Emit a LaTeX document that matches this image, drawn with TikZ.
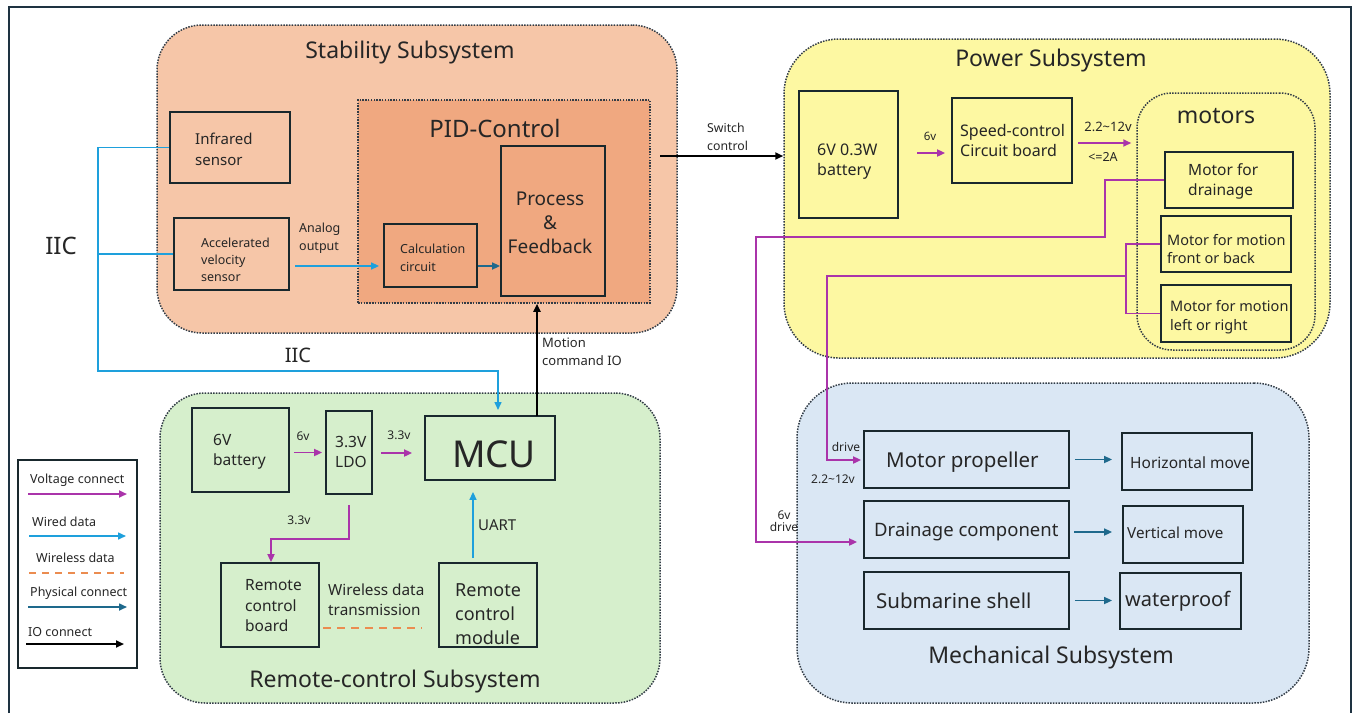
\documentclass[tikz,border=0pt]{standalone}
\usepackage{fontspec}
\setmainfont{Noto Sans}
\usetikzlibrary{arrows.meta,fit,calc}
\definecolor{voltc}{RGB}{170,52,170}
\definecolor{wirec}{RGB}{30,160,220}
\definecolor{wlessc}{RGB}{235,140,80}
\definecolor{physc}{RGB}{30,105,140}
\definecolor{edgec}{RGB}{25,40,45}
\definecolor{framec}{RGB}{30,50,65}
\definecolor{stabf}{RGB}{246,198,168}
\definecolor{pidf}{RGB}{240,168,128}
\definecolor{powf}{RGB}{253,248,162}
\definecolor{remf}{RGB}{214,239,204}
\definecolor{mechf}{RGB}{218,231,244}
\definecolor{dotc}{RGB}{50,60,70}
\definecolor{txtc}{RGB}{38,38,38}
\begin{document}
\begin{tikzpicture}[x=1pt,y=-1pt,
  f/.style 2 args={font=\fontsize{#1}{#2}\selectfont},
  txt/.style={text=txtc, inner sep=0pt},
  box/.style={draw=edgec, line width=1.8pt, inner sep=0pt},
  subsys/.style={draw=dotc, line width=1.5pt, dash pattern=on 1.5pt off 1.3pt, inner sep=0pt},
  arr/.style={-{Triangle[length=8pt,width=7pt]}},
  voltl/.style={draw=voltc, line width=1.8pt},
  wiredl/.style={draw=wirec, line width=1.5pt},
  physl/.style={draw=physc, line width=1.6pt},
  iol/.style={draw=black, line width=2.4pt},
  wlessl/.style={draw=wlessc, line width=2pt, dash pattern=on 8pt off 6pt},
]
\useasboundingbox (0,0) rectangle (1359,713);
\fill[white] (0,0) rectangle (1359,713);
% outer frame
\coordinate (fr1) at (9,713); \coordinate (fr2) at (9,7);
\coordinate (fr3) at (1351,7); \coordinate (fr4) at (1351,713);
\draw[framec, line width=2pt] (fr1) -- (fr2) -- (fr3) -- (fr4);

% subsystems
\node[subsys, fill=stabf, rounded corners=45pt, fit={(157,25)(677,333)}] (stab) {};
\node[subsys, fill=powf, rounded corners=55pt, fit={(784,39)(1330,358)}] (pow) {};
\node[subsys, fill=remf, rounded corners=45pt, fit={(160,393)(660,703)}] (rem) {};
\node[subsys, fill=mechf, rounded corners=55pt, fit={(797,383)(1309,703)}] (mech) {};
\node[subsys, fill=pidf, fit={(358,100)(650,303)}] (pid) {};
\node[subsys, rounded corners=35pt, fit={(1137,93)(1315,350)}] (mot) {};

% titles
\node[txt, f={23}{28}] (stabT) at (410,53) {Stability Subsystem};
\node[txt, f={23}{28}] (powT) at (1051,61) {Power Subsystem};
\node[txt, f={23}{28}] (remT) at (395,682) {Remote-control Subsystem};
\node[txt, f={23}{28}] (mechT) at (1051,658) {Mechanical Subsystem};
\node[txt, f={24}{28}] (pidT) at (495,128) {PID-Control};
\node[txt, f={23}{28}] (motT) at (1216,116) {motors};

% boxes
\node[box, fit={(170,112)(290,183)}] (ir) {};
\node[box, fit={(174,218)(289,290)}] (acc) {};
\node[box, fit={(384,224)(477,287)}] (calc) {};
\node[box, fit={(501,146)(605,296)}] (proc) {};
\node[box, fit={(799,91)(898,218)}] (bat) {};
\node[box, fit={(952,98)(1072,183)}] (sc) {};
\node[box, fit={(1165,152)(1293,208)}] (mdr) {};
\node[box, fit={(1161,216)(1291,272)}] (mfb) {};
\node[box, fit={(1161,285)(1291,342)}] (mlr) {};
\node[box, fit={(192,408)(289,492)}] (rbat) {};
\node[box, fit={(326,411)(372,494)}] (ldo) {};
\node[box, fit={(425,416)(555,480)}] (mcu) {};
\node[box, fit={(221,563)(319,647)}] (rcb) {};
\node[box, fit={(439,563)(537,647)}] (rcm) {};
\node[box, fit={(864,431)(1069,488)}] (mp) {};
\node[box, fit={(864,501)(1069,558)}] (dc) {};
\node[box, fit={(864,572)(1069,629)}] (ss) {};
\node[box, fit={(1122,433)(1252,490)}] (hm) {};
\node[box, fit={(1123,506)(1243,563)}] (vm) {};
\node[box, fit={(1120,573)(1241,629)}] (wp) {};
\node[box, fill=white, fit={(18,460)(137,668)}] (leg) {};

% box texts
\node[txt, f={15}{21}, anchor=west, align=left] (irT) at (195,149.5) {Infrared\\sensor};
\node[txt, f={12.5}{17}, anchor=west, align=left] (accT) at (201,260) {Accelerated\\velocity\\sensor};
\node[txt, f={12.5}{18}, anchor=west, align=left] (calcT) at (400,258) {Calculation\\circuit};
\node[txt, f={19}{24}, align=center] (procT) at (550,223) {Process\\\&\\Feedback};
\node[txt, f={16}{20}, anchor=west, align=left] (batT) at (817,162) {6V 0.3W\\battery};
\node[txt, f={16}{20}, anchor=west, align=left] (scT) at (960,140) {Speed-control\\Circuit board};
\node[txt, f={15.5}{20}, anchor=west, align=left] (mdrT) at (1188,181) {Motor for\\drainage};
\node[txt, f={14.5}{18}, anchor=west, align=left] (mfbT) at (1167,249) {Motor for motion\\front or back};
\node[txt, f={14.5}{19}, anchor=west, align=left] (mlrT) at (1170,317.5) {Motor for motion\\left or right};
\node[txt, f={15.5}{20}, anchor=west, align=left] (rbatT) at (213,452) {6V\\battery};
\node[txt, f={15.5}{20}, anchor=west, align=left] (ldoT) at (335,452) {3.3V\\LDO};
\node[txt, f={37}{40}] (mcuT) at (494,454) {MCU};
\node[txt, f={15.5}{20.5}, anchor=west, align=left] (rcbT) at (245,606) {Remote\\control\\board};
\node[txt, f={18}{24}, anchor=west, align=left] (rcmT) at (455,614) {Remote\\control\\module};
\node[txt, f={20.5}{24}, anchor=west] (mpT) at (886,462) {Motor propeller};
\node[txt, f={18.5}{24}, anchor=west] (dcT) at (874,532) {Drainage component};
\node[txt, f={20.5}{24}, anchor=west] (ssT) at (876,601) {Submarine shell};
\node[txt, f={15.5}{20}, anchor=west] (hmT) at (1130,463) {Horizontal move};
\node[txt, f={15.2}{20}, anchor=west] (vmT) at (1127,533) {Vertical move};
\node[txt, f={20}{24}, anchor=west] (wpT) at (1125,601) {waterproof};

% labels
\node[txt, f={24}{28}] (iic1) at (61,246) {IIC};
\node[txt, f={20}{24}] (iic2) at (298,355) {IIC};
\node[txt, f={12.5}{18}, anchor=west, align=left] (anT) at (299,238) {Analog\\output};
\node[txt, f={12.3}{18}, anchor=west, align=left] (swT) at (707,137) {Switch\\control};
\node[txt, f={13}{18}, anchor=west, align=left] (moT) at (542,352) {Motion\\command IO};
\node[txt, f={11.5}{14}] (v6a) at (930,136) {6v};
\node[txt, f={13}{16}] (v22a) at (1108,127) {2.2\textasciitilde 12v};
\node[txt, f={12.5}{16}] (v2A) at (1103,157) {<=2A};
\node[txt, f={12}{14}] (v6b) at (303,436) {6v};
\node[txt, f={12}{14}] (v33a) at (399,435) {3.3v};
\node[txt, f={12}{14}] (v33b) at (299,520) {3.3v};
\node[txt, f={15}{18}, anchor=west] (uartT) at (478,525) {UART};
\node[txt, f={15.3}{20}, anchor=west, align=left] (wdT) at (328,600) {Wireless data\\transmission};
\node[txt, f={12}{14}] (drv1) at (846,447) {drive};
\node[txt, f={12}{14}] (v22b) at (833,479) {2.2\textasciitilde 12v};
\node[txt, f={12}{12}, align=center] (drv2) at (784,521) {6v\\drive};

% ---- connectors ----
% IIC bus
\coordinate (iicB) at (98,371);
\coordinate (mcuIn) at (498,416);
\draw[wiredl, arr, shorten >=6pt] (ir.west) -| (iicB) -- (iicB -| mcuIn) -- (mcuIn);
\draw[wiredl] (acc.west) -- (acc.west -| iicB);
% analog output
\coordinate (an1) at (295,266);
\draw[wiredl, arr, shorten >=4pt] (an1) -- (an1 -| calc.west);
\draw[physl, arr] (calc.east |- an1) -- (an1 -| proc.west);
% switch control
\coordinate (sw1) at (660,156);
\draw[iol, arr] (sw1) -- (sw1 -| pow.west);
% motion command
\coordinate (mo1) at (537,416);
\draw[iol, arr] (mo1) -- (mo1 |- pid.south);
% power chain
\coordinate (b6) at (917,153);
\draw[voltl, arr, shorten >=6pt] (b6) -- (b6 -| sc.west);
\coordinate (s1) at (1078,143);
\draw[voltl, arr, shorten >=5pt] (s1) -- (s1 -| mot.west);
% drainage motor to drainage component
\coordinate (dA) at (1105,237);
\coordinate (dB) at (756,237);
\coordinate (dC) at (756,542);
\draw[voltl, arr, shorten >=6pt] (mdr.west) -| (dA) -- (dB) -- (dC) -- (dC -| dc.west);
% motion motors to propeller
\coordinate (pA) at (1126,276);
\coordinate (pB) at (827,276);
\coordinate (pC) at (827,460);
\draw[voltl] (mfb.west) -| (pA);
\draw[voltl] (mlr.west) -| (pA);
\draw[voltl, arr, shorten >=2pt] (pA) -- (pB) -- (pC) -- (pC -| mp.west);
% remote power
\draw[voltl, arr, shorten <=4pt, shorten >=3pt] (rbat.east |- ldo.west) -- (ldo.west);
\coordinate (l0) at (381,453);
\draw[voltl, arr, shorten >=12pt] (l0) -- (l0 -| mcu.west);
\coordinate (l1) at (349,539);
\coordinate (l2) at (271,539);
\draw[voltl, arr, shorten <=10pt] (ldo.south) -- (l1) -- (l2) -- (l2 |- rcb.north);
% UART
\coordinate (u1) at (473,558);
\draw[wiredl, arr, shorten >=11pt] (u1) -- (u1 |- mcu.south);
% wireless
\coordinate (w1) at (323,628);
\draw[wlessl, shorten >=16pt] (w1) -- (w1 -| rcm.west);
% physical
\draw[physl, arr, shorten <=5pt, shorten >=9pt] (mp.east) -- (mp.east -| hm.west);
\coordinate (ph2) at (1074,532);
\draw[physl, arr, shorten >=10pt] (ph2) -- (ph2 -| vm.west);
\draw[physl, arr, shorten <=5pt, shorten >=7pt] (ss.east) -- (ss.east -| wp.west);

% legend
\node[txt, f={12.5}{15}, anchor=west] (lg1) at (30,480) {Voltage connect};
\node[txt, f={12.5}{15}, anchor=west] (lg2) at (32,522) {Wired data};
\node[txt, f={12.5}{15}, anchor=west] (lg3) at (36,558) {Wireless data};
\node[txt, f={12.5}{15}, anchor=west] (lg4) at (30,593) {Physical connect};
\node[txt, f={12.5}{15}, anchor=west] (lg5) at (28,632) {IO connect};
\coordinate (la1) at (28,494); \coordinate (lb1) at (127,494);
\coordinate (la2) at (29,536); \coordinate (lb2) at (126,536);
\coordinate (la3) at (29,573); \coordinate (lb3) at (124,573);
\coordinate (la4) at (28,607); \coordinate (lb4) at (127,607);
\coordinate (la5) at (26,644); \coordinate (lb5) at (124,644);
\draw[voltl, arr] (la1) -- (lb1);
\draw[wiredl, arr] (la2) -- (lb2);
\draw[wlessl, dash pattern=on 7pt off 6pt] (la3) -- (lb3);
\draw[physl, arr] (la4) -- (lb4);
\draw[draw=black, line width=1.8pt, arr] (la5) -- (lb5);
\end{tikzpicture}
\end{document}
